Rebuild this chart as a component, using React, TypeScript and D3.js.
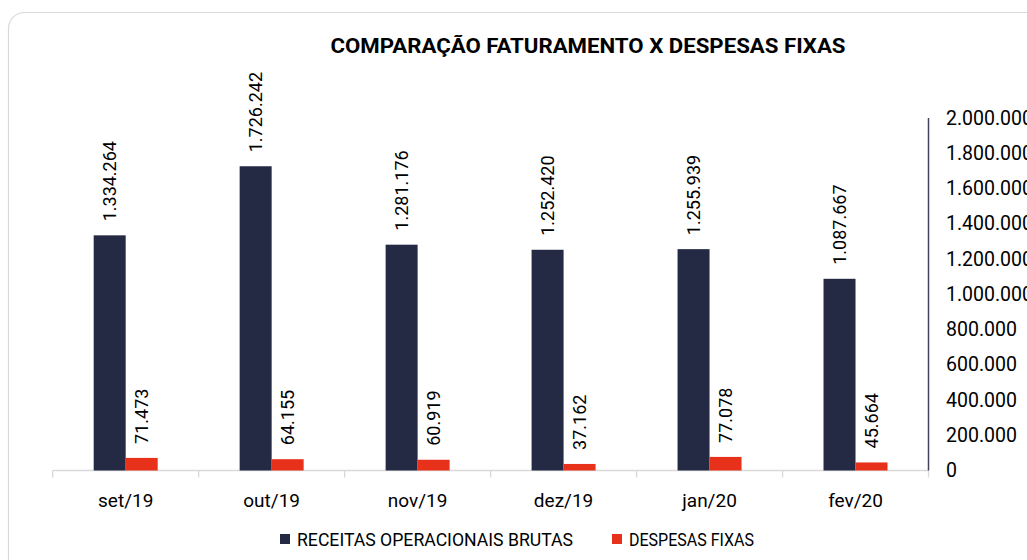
import React from "react";
import * as d3 from "d3";

const categories = ["set/19", "out/19", "nov/19", "dez/19", "jan/20", "fev/20"];
const receitas = [1334264, 1726242, 1281176, 1252420, 1255939, 1087667];
const despesas = [71473, 64155, 60919, 37162, 77078, 45664];
const seriesNames = ["RECEITAS OPERACIONAIS BRUTAS", "DESPESAS FIXAS"];
const seriesColors = ["#252a44", "#e8311a"];
const yTicks = [0, 200000, 400000, 600000, 800000, 1000000, 1200000, 1400000, 1600000, 1800000, 2000000];
const title = "COMPARAÇÃO FATURAMENTO X DESPESAS FIXAS";

const W = 1027;
const H = 560;
const FONT = "Roboto, 'Open Sans', sans-serif";

const locale = d3.formatLocale({ decimal: ",", thousands: ".", grouping: [3], currency: ["", ""] });
const fmt = locale.format(",d");

export default function App() {
  const x = d3.scaleBand<string>().domain(categories).range([52.7, 928.5]).paddingInner(0).paddingOuter(0);
  const y = d3.scaleLinear().domain([0, 2000000]).range([470.5, 118]);
  const barW = 32;
  const inner = d3.scaleBand<number>().domain([0, 1]).range([-barW, barW]).padding(0);
  const series = [receitas, despesas];
  const boundaries = categories.map((c) => x(c) as number).concat([x.range()[1]]);
  const legendX = [280, 612];
  const legendLen = [276, 125];

  return (
    <svg
      width={W}
      height={H}
      style={{ position: "absolute", left: 0, top: 0, background: "#fff" }}
      fontFamily={FONT}
    >
      <rect x={8.5} y={12.5} width={1040} height={570} rx={16} fill="#fff" stroke="#d9d9d9" strokeWidth={1.2} />
      <text
        x={588}
        y={53}
        textAnchor="middle"
        fontSize={21}
        fontWeight="bold"
        fill="#000"
        textLength={515}
        lengthAdjust="spacingAndGlyphs"
      >
        {title}
      </text>

      {/* baseline */}
      <line x1={x.range()[0]} x2={x.range()[1]} y1={y(0)} y2={y(0)} stroke="#d9d9d9" strokeWidth={1.3} />
      {boundaries.map((b, i) => (
        <line key={"t" + i} x1={b} x2={b} y1={y(0)} y2={y(0) + 7} stroke="#d9d9d9" strokeWidth={1.3} />
      ))}

      {/* bars */}
      {series.map((vals, si) =>
        vals.map((v, ci) => {
          const cx = (x(categories[ci]) as number) + x.bandwidth() / 2;
          const bx = cx + (inner(si) as number);
          return (
            <g key={`b${si}-${ci}`}>
              <rect x={bx} y={y(v)} width={inner.bandwidth()} height={y(0) - y(v)} fill={seriesColors[si]} />
              <text
                transform={`translate(${bx + inner.bandwidth() / 2},${y(v) - 14}) rotate(-90)`}
                textAnchor="start"
                dominantBaseline="central"
                fontSize={18}
                fill="#000"
              >
                {fmt(v)}
              </text>
            </g>
          );
        })
      )}

      {/* right axis */}
      <line x1={928.5} x2={928.5} y1={y(2000000)} y2={y(0)} stroke="#40435a" strokeWidth={1.5} />
      {yTicks.map((t) => (
        <text key={"y" + t} x={946} y={y(t)} dominantBaseline="central" fontSize={19.5} fill="#000">
          {fmt(t)}
        </text>
      ))}

      {/* x labels */}
      {categories.map((c) => (
        <text
          key={c}
          x={(x(c) as number) + x.bandwidth() / 2}
          y={500}
          textAnchor="middle"
          dominantBaseline="central"
          fontSize={19}
          fill="#000"
        >
          {c}
        </text>
      ))}

      {/* legend */}
      {seriesNames.map((n, i) => (
        <g key={n}>
          <rect x={legendX[i]} y={534} width={10} height={10} fill={seriesColors[i]} />
          <text
            x={legendX[i] + 17}
            y={539.5}
            dominantBaseline="central"
            fontSize={17.5}
            fill="#000"
            textLength={legendLen[i]}
            lengthAdjust="spacingAndGlyphs"
          >
            {n}
          </text>
        </g>
      ))}
    </svg>
  );
}
